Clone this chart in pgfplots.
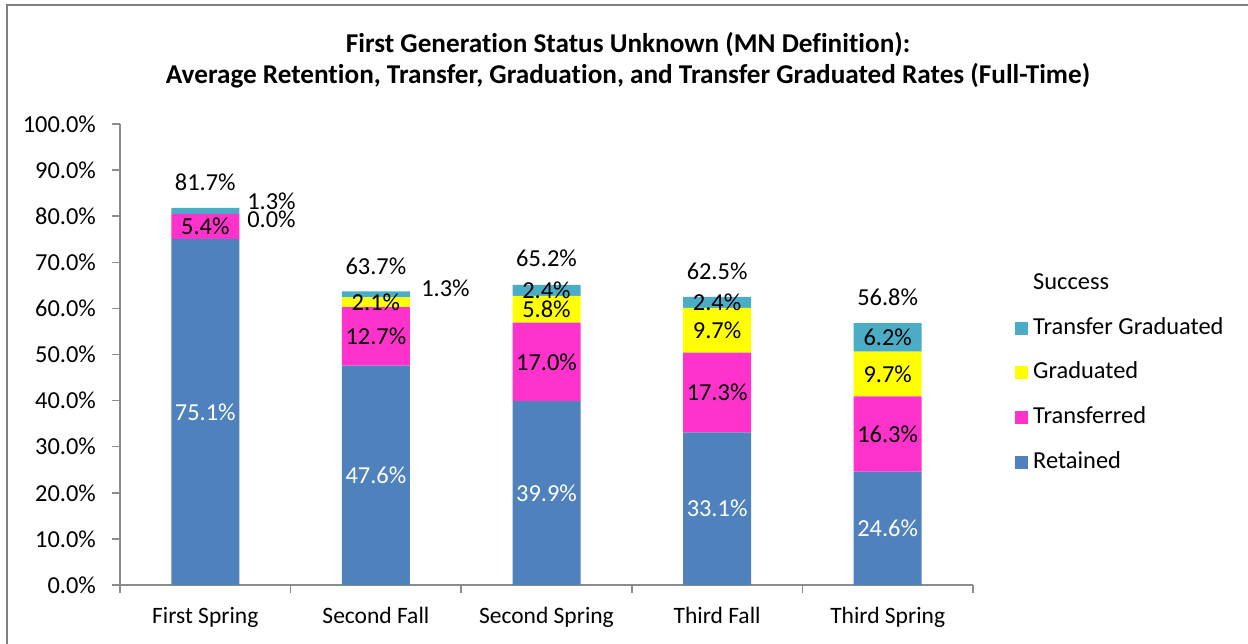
\documentclass[border=0pt]{standalone}
\usepackage{pgfplots}
\pgfplotsset{compat=1.18}
\usepackage{fontspec}
\setmainfont{Carlito}[Ligatures={NoCommon}]
\newcommand\cf{\fontsize{11.75pt}{14pt}\selectfont}
\newcommand\lf{\fontsize{12.2pt}{14pt}\selectfont}
\definecolor{ret}{HTML}{4F81BD}
\definecolor{trf}{HTML}{FF33CC}
\definecolor{grd}{HTML}{FFFF00}
\definecolor{tgr}{HTML}{4BACC6}
\definecolor{axgray}{HTML}{8C8C8C}
\definecolor{framegray}{HTML}{7F7F7F}
\pgfplotsset{
  base/.style={at={(60pt,29pt)}, anchor=south west, scale only axis,
    width=426.5pt, height=230.5pt, xmin=-0.5, xmax=4.5, ymin=0, ymax=100},
  sq/.style={legend image code/.code={\fill[draw=none, fill=#1] (0pt,-3.25pt) rectangle (6.5pt,3.25pt);}},
  lab/.style={only marks, mark=*, mark size=0pt, mark options={draw=none,fill=none},
    point meta=explicit,
    nodes near coords={\pgfmathprintnumber[fixed,fixed zerofill,precision=1,assume math mode=true]{\pgfplotspointmeta}\%},
    every node near coord/.append style={anchor=center, font=\lf, inner sep=0pt, text=#1}},
}
\begin{document}
\begin{tikzpicture}[x=0.5pt,y=0.5pt]
\useasboundingbox (0,0) rectangle (1248,643);
\draw[framegray, line width=1pt] (7,-20) -- (7,638) -- (1270,638);
\node[font=\fontsize{13.6pt}{15.5pt}\selectfont\bfseries, align=center] at (628,583)
  {First Generation Status Unknown (MN Definition):\\Average Retention, Transfer, Graduation, and Transfer Graduated Rates (Full-Time)};
\begin{axis}[base,
  ybar stacked, bar width=34pt,
  axis x line*=bottom, axis y line*=left,
  axis line style={-, axgray, line width=0.75pt},
  tick style={axgray, line width=0.75pt},
  tick align=outside, major tick length=4pt,
  ytick={0,10,...,100},
  yticklabel={\pgfmathprintnumber[fixed,fixed zerofill,precision=1]{\tick}\%},
  yticklabel style={font=\lf, xshift=-4.5pt},
  xtick={-0.5,0.5,1.5,2.5,3.5,4.5},
  xticklabels={,,,,,},
  extra x ticks={0,1,2,3,4},
  extra x tick labels={First Spring, Second Fall, Second Spring, Third Fall, Third Spring},
  extra x tick style={major tick length=0pt, tick label style={font=\cf, yshift=-7.5pt}},
  /pgf/number format/assume math mode=true,
  legend cell align=left,
  legend style={at={(axis description cs:1.049,0.679)}, anchor=north west,
    draw=none, fill=none, inner sep=0pt, font=\lf, row sep=11.4pt,
    nodes={inner sep=0pt, text height=8.5pt, text depth=2.5pt},
    /tikz/every odd column/.append style={column sep=2.5pt}},
]
\addplot[fill=ret, draw=none, forget plot] coordinates {(0,75.1) (1,47.6) (2,39.9) (3,33.1) (4,24.6)};
\addplot[fill=trf, draw=none, forget plot] coordinates {(0,5.4) (1,12.7) (2,17.0) (3,17.3) (4,16.3)};
\addplot[fill=grd, draw=none, forget plot] coordinates {(0,0.0) (1,2.1) (2,5.8) (3,9.7) (4,9.7)};
\addplot[fill=tgr, draw=none, forget plot] coordinates {(0,1.3) (1,1.3) (2,2.4) (3,2.4) (4,6.2)};
\addlegendimage{empty legend}\addlegendentry{Success}
\addlegendimage{sq=tgr, draw=none}\addlegendentry{Transfer Graduated}
\addlegendimage{sq=grd, draw=none}\addlegendentry{Graduated}
\addlegendimage{sq=trf, draw=none}\addlegendentry{Transferred}
\addlegendimage{sq=ret, draw=none}\addlegendentry{Retained}
\end{axis}
\begin{axis}[base, hide axis, clip=false]
\addplot[lab=white] table[meta=m] {
x y m
0 37.55 75.1
1 23.8 47.6
2 19.95 39.9
3 16.55 33.1
4 12.3 24.6
};
\addplot[lab=black] table[meta=m] {
x y m
0 77.8 5.4
0 87.3 81.7
0.388 83.3 1.3
0.388 79.3 0.0
1 53.95 12.7
1 61.35 2.1
1 69.2 63.7
1.408 64.4 1.3
2 48.4 17.0
2 59.8 5.8
2 64.0 2.4
2 70.9 65.2
3 41.75 17.3
3 55.25 9.7
3 61.3 2.4
3 68.1 62.5
4 32.75 16.3
4 45.75 9.7
4 53.7 6.2
4 62.5 56.8
};
\end{axis}
\end{tikzpicture}
\end{document}
